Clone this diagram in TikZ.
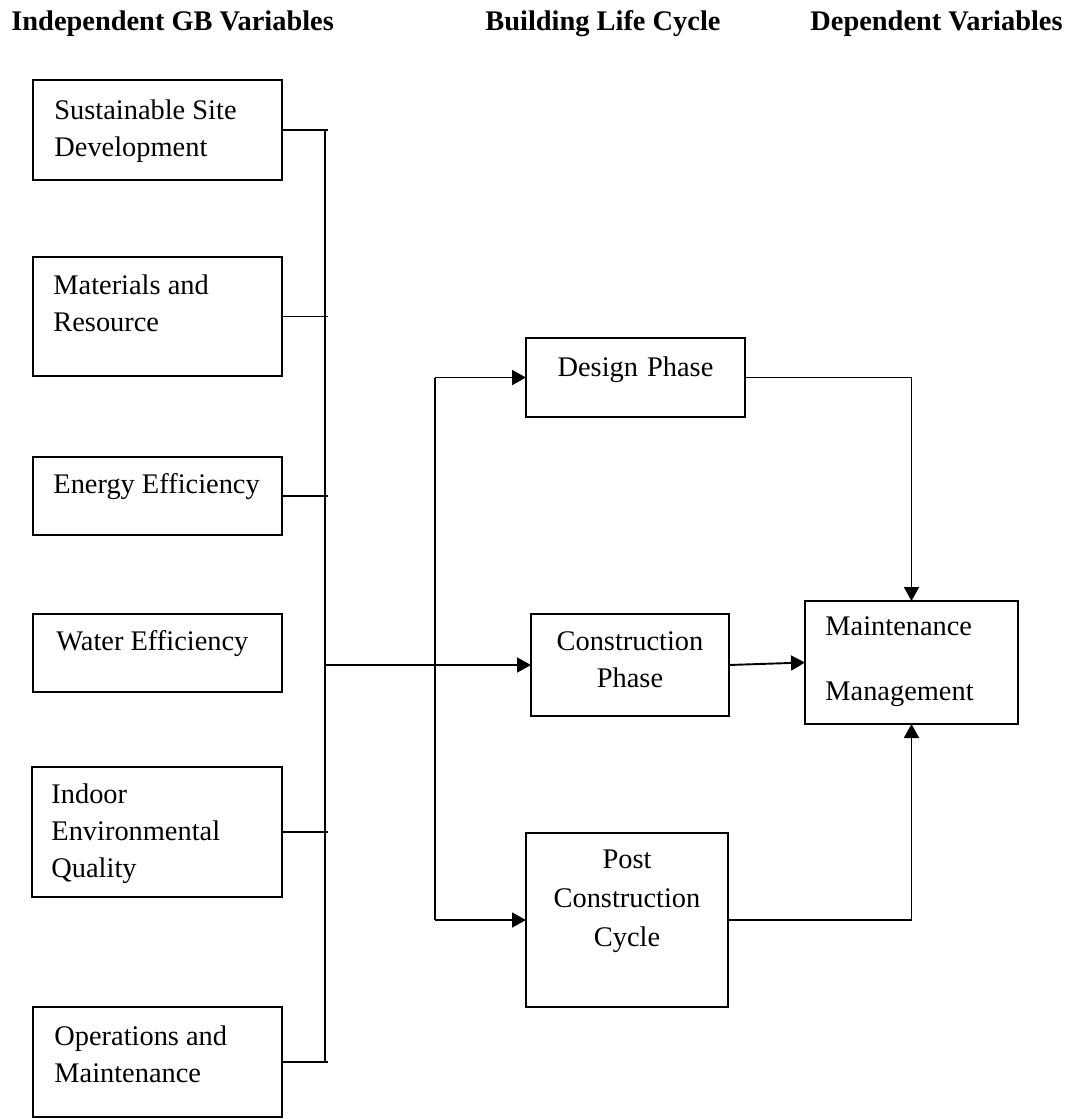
\documentclass[tikz,border=0pt]{standalone}
\usepackage{fontspec}
\setmainfont{Liberation Serif}
\usetikzlibrary{arrows.meta}
\newcommand{\gbfont}{\fontsize{14.2pt}{18.5pt}\selectfont}
\newcommand{\gbbox}[5]{\node[boxline, minimum width={(#4-#2)*0.5pt}, minimum height={(#5-#3)*0.5pt}] (#1) at ({(#2+#4)/2},{(#3+#5)/2}) {};}
\newcommand{\lefttext}[4]{\node[gbtext, anchor=base west] (#1) at (#2,#3) {#4};}
\newcommand{\phasetext}[4]{\node[phtext, anchor=base] (#1) at (#2,#3) {#4};}
\tikzset{
  boxline/.style={draw, line width=0.9pt, inner sep=0pt, outer sep=0pt},
  gbtext/.style={inner sep=0pt, font=\gbfont, text width=120pt, align=left,
    execute at begin node={\spaceskip=0pt\xspaceskip=0pt\relax}},
  phtext/.style={inner sep=0pt, font=\gbfont, text width=110pt, align=center,
    execute at begin node={\spaceskip=0pt\xspaceskip=0pt\relax}},
  headtext/.style={inner sep=0pt, anchor=base west, font=\gbfont\bfseries},
  link/.style={line width=0.95pt},
  arr/.style={link, -{Triangle[length=7pt,width=7.5pt]}}
}
\begin{document}
\begin{tikzpicture}[x=0.5pt,y=-0.5pt]
\useasboundingbox (0,0) rectangle (1077,1119);
\node[headtext] (h-ind) at (11,30) {Independent GB Variables};
\node[headtext] (h-blc) at (485,30) {Building Life Cycle};
\node[headtext] (h-dep) at (810,30) {Dependent Variables};
\gbbox{ssd}{33}{80}{282}{180}
\gbbox{mr}{33}{257}{282}{376}
\gbbox{ee}{33}{457}{282}{535}
\gbbox{wef}{33}{614}{282}{692}
\gbbox{ieq}{32}{767}{282}{897}
\gbbox{om}{33}{1007}{282}{1117}
\gbbox{dp}{526}{338}{745}{417}
\gbbox{cp}{531}{614}{729}{716}
\gbbox{pc}{526}{833}{728}{1007}
\gbbox{mm}{805}{601}{1018}{724}
\lefttext{ssd-t}{54}{119}{Sustainable Site\\Development}
\lefttext{mr-t}{53}{294}{Materials and\\Resource}
\lefttext{ee-t}{53}{493}{Energy Efficiency}
\lefttext{wef-t}{56}{650}{Water Efficiency}
\lefttext{ieq-t}{51}{803}{Indoor\\Environmental\\Quality}
\lefttext{om-t}{54}{1045}{Operations and\\Maintenance}
\lefttext{mm-t}{825}{635}{Maintenance\\[14pt]Management}
\phasetext{dp-t}{635.5}{376}{Design Phase}
\phasetext{cp-t}{630}{650}{Construction\\Phase}
\phasetext{pc-t}{627}{868}{Post\\[1pt]Construction\\[1pt]Cycle}
\coordinate (bus) at (325,0);
\coordinate (tip) at (328,0);
\coordinate (split) at (435,0);
\foreach \b in {ssd,mr,ee,ieq,om}
  \draw[link] (\b.east) -- (\b.east -| tip);
\draw[link] (ssd.east -| bus) -- (om.east -| bus);
\draw[arr] (cp.west -| bus) -- (cp.west);
\draw[link] (dp.west -| split) -- (pc.west -| split);
\draw[arr] (dp.west -| split) -- (dp.west);
\draw[arr] (pc.west -| split) -- (pc.west);
\draw[arr] (dp.east) -| (mm.north);
\draw[arr] (cp.east) -- (mm.west);
\draw[arr] (pc.east) -| (mm.south);
\end{tikzpicture}
\end{document}
